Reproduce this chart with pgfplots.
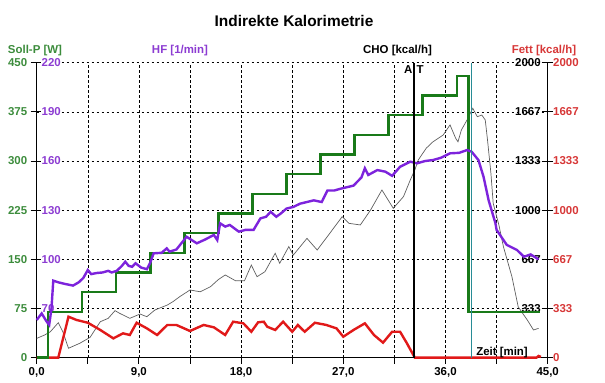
\documentclass[border=0pt]{standalone}
\usepackage{fontspec}
\setmainfont{Liberation Sans}
\usepackage{pgfplots}
\pgfplotsset{compat=1.18}
\definecolor{gline}{RGB}{25,122,25}
\definecolor{gtext}{RGB}{60,140,60}
\definecolor{pline}{RGB}{125,35,220}
\definecolor{ptext}{RGB}{140,60,210}
\definecolor{rline}{RGB}{225,25,25}
\definecolor{rtext}{RGB}{215,55,55}
\definecolor{cho}{RGB}{95,95,95}
\definecolor{teal2}{RGB}{40,140,150}
\newcommand{\tf}{\fontsize{11.5}{13}\selectfont\bfseries}
\pgfplotsset{
  base/.style={at={(0,0)}, anchor=south west, scale only axis,
    width=511bp, height=295bp, xmin=0, xmax=45,
    /pgf/number format/assume math mode=true,
    tick label style={font=\tf},
    clip=false},
}
\begin{document}
\begin{tikzpicture}
% main axis: grid, Soll-P ticks
\begin{axis}[base, ymin=0, ymax=450,
  axis x line*=bottom, axis y line*=left,
  axis line style={-, black, line width=1.1bp},
  xtick={0,4.5,...,45},
  xticklabels={{0,0},{},{9,0},{},{18,0},{},{27,0},{},{36,0},{},{45,0}},
  ytick={0,75,150,225,300,375,450},
  yticklabels={0,75,150,225,300,375,450},
  yticklabel style={text=gtext},
  tick align=outside, major tick length=6bp,
  tick style={black, line width=1bp},
  grid=major, grid style={black, line width=0.6bp, dash pattern=on 2.5bp off 2.5bp}]
\end{axis}
% HF tick labels (purple, inside left, white background)
\begin{axis}[base, ymin=40, ymax=220,
  axis x line=none, axis y line*=left,
  axis line style={draw=none},
  ytick={70,100,130,160,190,220},
  yticklabels={70,100,130,160,190,220},
  tick align=inside, major tick length=5.5bp,
  tick style={black, line width=1bp},
  yticklabel style={anchor=west, xshift=4.3bp, text=ptext, fill=white, inner xsep=0.5bp, inner ysep=1bp}]
\end{axis}
% CHO axis (right line, black labels inside)
\begin{axis}[base, ymin=0, ymax=2000,
  axis x line=none, axis y line*=right,
  axis line style={-, black, line width=1.1bp},
  ytick={0,333.333,666.667,1000,1333.333,1666.667,2000},
  yticklabels={,333,667,1000,1333,1667,2000},
  tick align=center, major tick length=11bp,
  tick style={black, line width=1bp},
  yticklabel style={anchor=east, xshift=-9bp, text=black}]
\addplot[cho, line width=0.7bp] coordinates {
(0,131) (0.7,154) (1.2,176) (1.9,237) (2.3,176) (2.8,64) (3.8,98) (4.7,138) (5.6,244) (6.3,267) (6.9,319) (7.3,301) (8.2,267) (9.1,296) (9.7,278) (10.4,323) (11.5,357) (12.0,380) (12.6,414) (13.5,459) (14.4,447) (15.3,481) (16.0,530) (16.6,561) (17.5,522) (18.3,522) (18.9,628) (19.4,549) (20.1,583) (21.0,708) (21.4,640) (22.2,753) (22.6,696) (23.8,809) (24.7,730) (25.7,832) (26.9,956) (27.5,911) (28.5,900) (29.4,1001) (30.4,1137) (31.4,1013) (32.3,1092) (32.9,1205) (33.3,1273) (33.6,1340) (34.3,1420) (34.9,1464) (35.8,1510) (36.4,1578) (36.9,1487) (37.1,1464) (37.4,1544) (37.9,1612) (38.4,1691) (38.8,1634) (39.2,1645) (39.5,1612) (39.7,1476) (40.0,1250) (40.2,1047) (40.7,900) (41.1,753) (41.85,549) (42.4,346) (42.8,300) (43.2,256) (43.75,188) (44.2,199)};
\end{axis}
% Fett axis (red labels outside right)
\begin{axis}[base, ymin=0, ymax=2000,
  axis x line=none, axis y line*=right,
  axis line style={draw=none},
  ytick={0,333.333,666.667,1000,1333.333,1666.667,2000},
  yticklabels={0,333,667,1000,1333,1667,2000},
  tick style={draw=none},
  yticklabel style={anchor=west, xshift=2bp, text=rtext}]
\addplot[rline, line width=2.4bp] coordinates {
(0,0) (1.9,0) (2.8,278) (3.5,256) (4.5,237) (5.6,188) (6.75,131) (7.6,165) (8.2,154) (8.8,237) (9.7,199) (10.6,154) (11.5,222) (12.3,222) (13.5,181) (14.7,222) (15.6,206) (16.6,154) (17.3,244) (18.2,233) (18.9,176) (19.5,240) (20.0,244) (20.3,210) (21.0,188) (21.7,244) (22.5,176) (23.0,222) (23.6,176) (24.5,237) (25.5,222) (26.4,199) (27.0,142) (27.9,188) (28.9,233) (29.7,154) (30.5,102) (31.3,176) (32.0,176) (32.6,98) (33.3,0) (44.0,0) (44.2,12) (44.4,5)};
\end{axis}
% Soll-P series
\begin{axis}[base, ymin=0, ymax=450, axis lines=none]
\addplot[gline, line width=2.6bp] coordinates {
(0,0) (1,0) (1,70) (4,70) (4,100) (7,100) (7,130) (10,130) (10,160) (13,160) (13,190) (16,190) (16,220) (19,220) (19,250) (22,250) (22,280) (25,280) (25,310) (28,310) (28,340) (31,340) (31,370) (34,370) (34,400) (37,400) (37,430) (38,430) (38,70) (44.3,70)};
\end{axis}
% HF series
\begin{axis}[base, ymin=40, ymax=220, axis lines=none]
\addplot[pline, line width=2.4bp] coordinates {
(0,63) (0.44,67) (0.88,62) (1.1,60) (1.3,70) (1.46,87) (1.9,86) (2.5,85) (3.2,84) (3.7,86) (4.1,88.6) (4.5,93.5) (4.8,91) (5.3,91.7) (5.8,92) (6.3,93) (6.6,92) (7.05,93) (7.5,96) (7.8,98.6) (8.1,96) (8.4,95.5) (8.7,97.6) (9.2,95) (9.7,94) (10.0,98) (10.3,103.7) (11.0,104) (11.45,106.7) (11.7,104.7) (12.3,106) (13.2,113.8) (13.6,112) (14.1,109.8) (14.8,112) (15.6,114.9) (15.9,111.8) (16.15,122) (16.6,120) (17.0,121) (17.8,116.9) (18.4,118) (19.1,118) (19.7,125) (20.2,126) (20.6,129) (21.1,126) (21.5,128) (22.0,131) (22.6,132) (23.2,134) (23.8,135) (24.4,136) (25.1,135) (25.6,142) (26.2,142) (26.7,143) (27.3,144) (27.9,145) (28.6,150) (28.9,155.6) (29.2,151.5) (29.6,153) (30.0,154.5) (30.7,153.5) (31.3,151) (32.0,156.5) (32.9,159.6) (33.5,158.6) (34.2,160) (34.9,160.6) (35.6,162) (36.4,164.7) (37.2,165) (37.9,166.7) (38.3,165.7) (38.9,160.6) (39.35,150.4) (39.8,136) (40.4,122) (40.5,118) (41.1,111.8) (41.4,108.8) (42.3,105.7) (42.9,101.6) (43.5,103) (44.2,100)};
\addplot[black, line width=1.2bp] coordinates {(33.23,40) (33.23,220)};
\addplot[teal2, line width=1bp] coordinates {(38.29,40) (38.29,220)};
\end{axis}
% texts
\node[anchor=base, inner sep=0, font=\fontsize{15.5}{17}\selectfont\bfseries] at (257.3bp,330.7bp) {Indirekte Kalorimetrie};
\node[anchor=base, inner sep=0, font=\tf, text=gtext] at (-1.7bp,303.7bp) {Soll-P [W]};
\node[anchor=base, inner sep=0, font=\tf, text=ptext] at (143.3bp,303.7bp) {HF [1/min]};
\node[anchor=base, inner sep=0, font=\tf, text=black] at (360.8bp,303.7bp) {CHO [kcal/h]};
\node[anchor=base, inner sep=0, font=\tf, text=rtext] at (507.3bp,303.7bp) {Fett [kcal/h]};
\node[anchor=base east, inner sep=0, font=\tf] at (491.3bp,2.5bp) {Zeit [min]};
\node[anchor=base east, inner sep=0, font=\tf] at (375.8bp,283.7bp) {A};
\node[anchor=base west, inner sep=0, font=\tf] at (379.8bp,283.7bp) {T};
\pgfresetboundingbox
\useasboundingbox (-36.7bp,-25.3bp) rectangle (568.3bp,357.7bp);
\end{tikzpicture}
\end{document}
